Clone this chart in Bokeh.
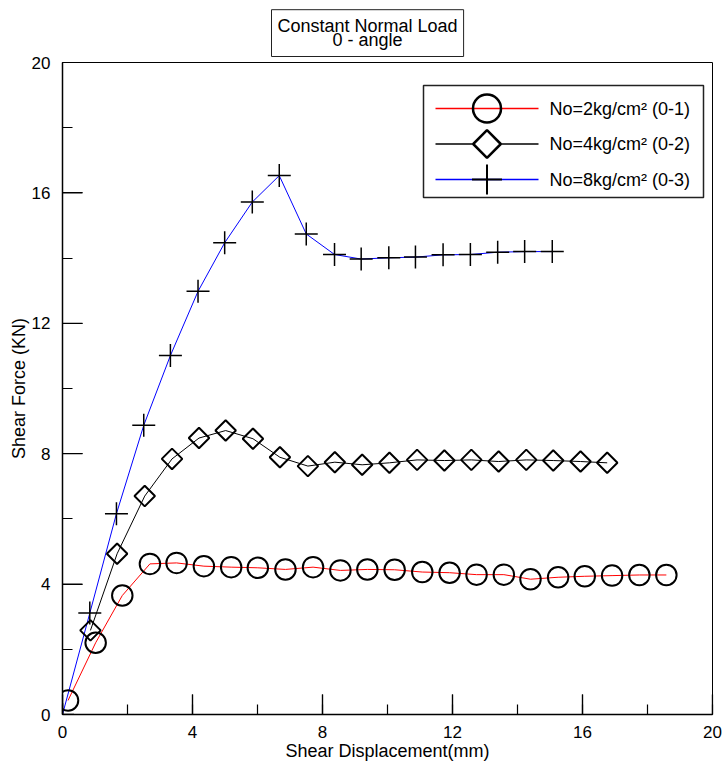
import numpy as np
from bokeh.plotting import figure
from bokeh.models import Range1d, SingleIntervalTicker, ColumnDataSource, Title
from bokeh.core.properties import value
from bokeh.embed import file_html
from bokeh.resources import INLINE

# Shear displacement (mm) / shear force (KN) for each normal load
disp_2 = [0.17, 1.02, 1.84, 2.69, 3.51, 4.35, 5.19, 6.01, 6.86, 7.71, 8.55, 9.38,
          10.22, 11.07, 11.91, 12.74, 13.58, 14.40, 15.25, 16.07, 16.91, 17.75, 18.58]
force_2 = [0.43, 2.20, 3.65, 4.62, 4.65, 4.55, 4.52, 4.50, 4.45, 4.52, 4.42, 4.45,
           4.44, 4.37, 4.35, 4.29, 4.29, 4.15, 4.21, 4.24, 4.26, 4.28, 4.28]

disp_4 = [0.86, 1.68, 2.53, 3.37, 4.20, 5.02, 5.86, 6.69, 7.55, 8.38, 9.22, 10.06,
          10.91, 11.75, 12.58, 13.42, 14.27, 15.10, 15.94, 16.76]
force_4 = [2.58, 4.93, 6.70, 7.84, 8.48, 8.71, 8.46, 7.89, 7.62, 7.74, 7.66, 7.72,
           7.81, 7.79, 7.81, 7.76, 7.81, 7.79, 7.76, 7.72]

disp_8 = [0.0, 0.84, 1.66, 2.50, 3.32, 4.17, 4.99, 5.84, 6.67, 7.50, 8.37, 9.19,
          10.04, 10.86, 11.71, 12.55, 13.39, 14.22, 15.07]
force_8 = [0.0, 3.11, 6.16, 8.87, 11.01, 12.98, 14.47, 15.72, 16.53, 14.74, 14.11, 13.97,
           14.01, 14.03, 14.10, 14.11, 14.18, 14.20, 14.20]

series_labels = ["No=2kg/cm\u00b2 (0-1)", "No=4kg/cm\u00b2 (0-2)", "No=8kg/cm\u00b2 (0-3)"]
line_colors = ["#ff0000", "black", "#0000ff"]
major_ticks = [0, 4, 8, 12, 16, 20]

FONT = "Liberation Sans"
FS_TICK = "17px"
FS = "18px"

W, H = 728, 771
BL, BR, BT, BB = 62, 16, 62, 57          # borders around the plot frame (px)
X0, X1, Y0, Y1 = 0, 20, 0, 20            # axis ranges
MAJOR_LEN, MINOR_LEN = 20, 10            # inward tick lengths (px)
TITLE_LEFT = 271                         # left edge of the heading box (px)

p = figure(width=W, height=H,
           x_range=Range1d(X0, X1), y_range=Range1d(Y0, Y1),
           output_backend="svg", toolbar_location=None,
           min_border_left=BL, min_border_right=BR,
           min_border_top=BT, min_border_bottom=BB,
           x_axis_label="Shear Displacement(mm)",
           y_axis_label="Shear Force (KN)")

p.xgrid.visible = False
p.ygrid.visible = False
p.outline_line_color = "black"
p.outline_line_width = 1
p.background_fill_color = "white"
p.border_fill_color = "white"

# boxed two-line heading
title = Title(text="Constant Normal Load\n0 - angle", align="left",
              offset=TITLE_LEFT - BL,
              text_font=FONT, text_font_size=FS, text_font_style="normal",
              text_color="black", text_line_height=0.74,
              border_line_color="#222222", border_line_width=1,
              background_fill_color="white", padding=6, standoff=12)
try:
    title.text_align = "center"
except AttributeError:
    pass
p.title = title

step = major_ticks[1] - major_ticks[0]
for ax in (p.xaxis[0], p.yaxis[0]):
    ax.ticker = SingleIntervalTicker(interval=step, num_minor_ticks=2)
    ax.major_tick_in = MAJOR_LEN
    ax.major_tick_out = 0
    ax.minor_tick_in = MINOR_LEN
    ax.minor_tick_out = 0
    ax.major_tick_line_color = "black"
    ax.major_tick_line_width = 1.2
    ax.minor_tick_line_color = "black"
    ax.minor_tick_line_width = 1.2
    ax.axis_line_color = "black"
    ax.axis_line_width = 1.5
    ax.major_label_text_font = FONT
    ax.major_label_text_font_size = FS_TICK
    ax.major_label_text_color = "black"
    ax.axis_label_text_font = FONT
    ax.axis_label_text_font_size = FS
    ax.axis_label_text_font_style = "normal"
    ax.axis_label_text_color = "black"

p.xaxis.major_label_standoff = 11
p.xaxis.axis_label_standoff = 0
p.yaxis.major_label_standoff = 12
p.yaxis.axis_label_standoff = 0

frame_w = W - BL - BR
frame_h = H - BT - BB
px_x = (X1 - X0) / frame_w               # data units per pixel
px_y = (Y1 - Y0) / frame_h

# long inward major ticks along the bottom and left edges
n = len(major_ticks)
p.segment(x0=major_ticks, x1=major_ticks, y0=[Y0] * n, y1=[Y0 + MAJOR_LEN * px_y] * n,
          line_color="black", line_width=1.2)
p.segment(x0=[X0] * n, x1=[X0 + MAJOR_LEN * px_x] * n, y0=major_ticks, y1=major_ticks,
          line_color="black", line_width=1.2)

src2 = ColumnDataSource(dict(x=disp_2, y=force_2))
src4 = ColumnDataSource(dict(x=disp_4, y=force_4))
src8 = ColumnDataSource(dict(x=disp_8, y=force_8))

# connecting lines
p.line("x", "y", source=src2, line_color=line_colors[0], line_width=1)
p.line("x", "y", source=src4, line_color=line_colors[1], line_width=1)
p.line("x", "y", source=src8, line_color=line_colors[2], line_width=1)

# open markers on top
p.scatter("x", "y", source=src2, marker="circle", size=20.5,
          fill_alpha=0, line_color="black", line_width=2)
p.scatter("x", "y", source=src4, marker="square", angle=np.pi / 4, size=14.5,
          fill_alpha=0, line_color="black", line_width=2)
p.scatter("x", "y", source=src8, marker="cross", size=23,
          line_color="black", line_width=1.5)


# ---- legend box drawn inside the frame, positioned in screen pixels ----
def dx(px):
    """canvas x pixel -> data x"""
    return X0 + (px - BL) * px_x


def dy(py):
    """canvas y pixel (from top) -> data y"""
    return Y0 + (BT + frame_h - py) * px_y


LG_LEFT, LG_RIGHT, LG_TOP, LG_BOTTOM = 423, 703, 85, 197
ROW0, ROW_STEP = 108, 35.5
SAMPLE_L, SAMPLE_R = 435, 538
TEXT_X = 549

rows = [ROW0 + i * ROW_STEP for i in range(3)]
mid_x = (SAMPLE_L + SAMPLE_R) / 2

p.quad(left=[dx(LG_LEFT)], right=[dx(LG_RIGHT)], top=[dy(LG_TOP)], bottom=[dy(LG_BOTTOM)],
       fill_color="white", line_color="#222222", line_width=1.5, level="overlay")
for r, c in zip(rows, line_colors):
    p.line([dx(SAMPLE_L), dx(SAMPLE_R)], [dy(r), dy(r)],
           line_color=c, line_width=1.3, level="overlay")
p.scatter([dx(mid_x)], [dy(rows[0])], marker="circle", size=28,
          fill_alpha=0, line_color="black", line_width=2.5, level="overlay")
p.scatter([dx(mid_x)], [dy(rows[1])], marker="square", angle=np.pi / 4, size=19.5,
          fill_color="white", line_color="black", line_width=2.5, level="overlay")
p.scatter([dx(mid_x)], [dy(rows[2])], marker="cross", size=30,
          line_color="black", line_width=2, level="overlay")
p.text(x=[dx(TEXT_X)] * 3, y=[dy(r) for r in rows], text=series_labels,
       text_font=value(FONT), text_font_size=FS, text_color="black",
       text_align="left", text_baseline="middle", level="overlay")

open("out.html", "w").write(file_html(p, INLINE))
